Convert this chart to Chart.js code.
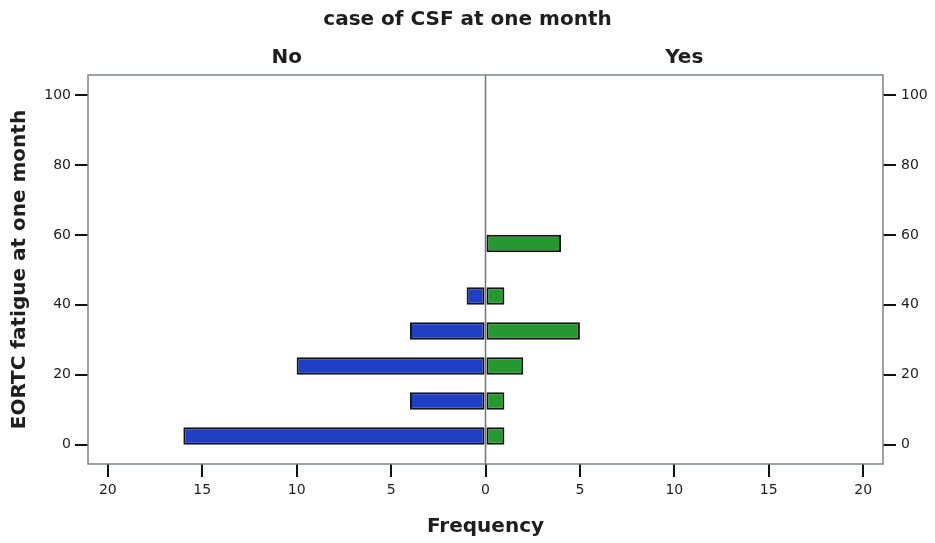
<!DOCTYPE html>
<html>
<head>
<meta charset="utf-8">
<title>case of CSF at one month</title>
<script src="https://cdn.jsdelivr.net/npm/chart.js@4.4.1/dist/chart.umd.min.js"></script>
<style>
  html, body { margin: 0; padding: 0; background: #ffffff; }
  canvas { display: block; }
</style>
</head>
<body>
<canvas id="pyramid" width="935" height="543"></canvas>
<script>
/* --------------- Data --------------------- */
// fatigue score bins (centre of each 5-point bin)
const fatigueBins = [2.5, 12.5, 22.5, 32.5, 42.5, 57.5];
const noCounts = [16, 4, 10, 4, 1, 0];
const yesCounts = [1, 1, 2, 5, 1, 4];

const panelLabels = ["No", "Yes"];
const yTicks = [0, 20, 40, 60, 80, 100];
const xTicks = [-20, -15, -10, -5, 0, 5, 10, 15, 20];

/* --------------- Styles --------------------- */
const textColor = "#1e1e1e";
const titleFont = { family: "DejaVu Sans", size: 20, weight: "bold", lineHeight: 1.2 };
const tickFont = { family: "DejaVu Sans", size: 14 };

const toPoints = (counts, sign) =>
    counts.map((v, i) => ({ y: fatigueBins[i], x: v ? sign * v : null }));

/* --------------- Frame, divider and panel labels --------------------- */
const framePlugin = {
    id: "frame",
    beforeDatasetsDraw(chart) {
        const { ctx, chartArea, scales } = chart;
        const x0 = scales.x.getPixelForValue(0);
        ctx.save();
        ctx.strokeStyle = "#6b7386";
        ctx.lineWidth = 1.5;
        ctx.beginPath();
        ctx.moveTo(x0, chartArea.top);
        ctx.lineTo(x0, chartArea.bottom);
        ctx.stroke();
        ctx.restore();
    },
    afterDraw(chart) {
        const { ctx, chartArea, scales } = chart;
        const x0 = scales.x.getPixelForValue(0);
        ctx.save();
        ctx.strokeStyle = "#7d838c";
        ctx.lineWidth = 1.5;
        ctx.strokeRect(chartArea.left, chartArea.top, chartArea.right - chartArea.left, chartArea.bottom - chartArea.top);

        ctx.fillStyle = textColor;
        ctx.font = "bold 20px 'DejaVu Sans'";
        ctx.textAlign = "center";
        ctx.textBaseline = "middle";
        ctx.fillText(panelLabels[0], (chartArea.left + x0) / 2, 58);
        ctx.fillText(panelLabels[1], (x0 + chartArea.right) / 2, 58);
        ctx.restore();
    },
};

/* --------------- Chart --------------------- */
const tickGrid = {
    drawOnChartArea: false,
    drawTicks: true,
    offset: false,
    tickLength: 13,
    color: "#111111",
    lineWidth: 2,
};

new Chart(document.getElementById("pyramid"), {
    type: "bar",
    plugins: [framePlugin],
    data: {
        datasets: [
            {
                label: panelLabels[0],
                data: toPoints(noCounts, -1),
                backgroundColor: "#1f3ec4",
            },
            {
                label: panelLabels[1],
                data: toPoints(yesCounts, 1),
                backgroundColor: "#25982f",
            },
        ],
    },
    options: {
        indexAxis: "y",
        responsive: false,
        animation: false,
        devicePixelRatio: 1,
        layout: { padding: 0 },
        datasets: {
            bar: {
                grouped: false,
                categoryPercentage: 0.5,
                barPercentage: 1,
                borderColor: "#141414",
                borderWidth: 2,
                borderSkipped: false,
            },
        },
        plugins: {
            legend: { display: false },
            tooltip: { enabled: false },
            title: {
                display: true,
                text: "case of CSF at one month",
                color: textColor,
                font: titleFont,
                padding: { top: 8, bottom: 43 },
            },
        },
        scales: {
            x: {
                type: "linear",
                min: -21.05,
                max: 21.05,
                offset: false,
                afterBuildTicks: (scale) => { scale.ticks = xTicks.map(v => ({ value: v })); },
                afterFit: (scale) => { scale.height = 79; },
                grid: tickGrid,
                border: { display: false },
                ticks: {
                    color: textColor,
                    font: tickFont,
                    padding: 5,
                    maxRotation: 0,
                    callback: (value) => Math.abs(value),
                },
                title: {
                    display: true,
                    text: "Frequency",
                    color: textColor,
                    font: titleFont,
                    padding: { top: 0, bottom: 4 },
                },
            },
            y: {
                type: "linear",
                position: "left",
                min: -5.5,
                max: 105.7,
                offset: false,
                afterBuildTicks: (scale) => { scale.ticks = yTicks.map(v => ({ value: v })); },
                afterFit: (scale) => { scale.width = 88; },
                grid: tickGrid,
                border: { display: false },
                ticks: { color: textColor, font: tickFont, padding: 4 },
                title: {
                    display: true,
                    text: "EORTC fatigue at one month",
                    color: textColor,
                    font: titleFont,
                    padding: { top: 8, bottom: 0 },
                },
            },
            y2: {
                type: "linear",
                position: "right",
                min: -5.5,
                max: 105.7,
                offset: false,
                afterBuildTicks: (scale) => { scale.ticks = yTicks.map(v => ({ value: v })); },
                afterFit: (scale) => { scale.width = 52; },
                grid: tickGrid,
                border: { display: false },
                ticks: { color: textColor, font: tickFont, padding: 5 },
            },
        },
    },
});
</script>
</body>
</html>
